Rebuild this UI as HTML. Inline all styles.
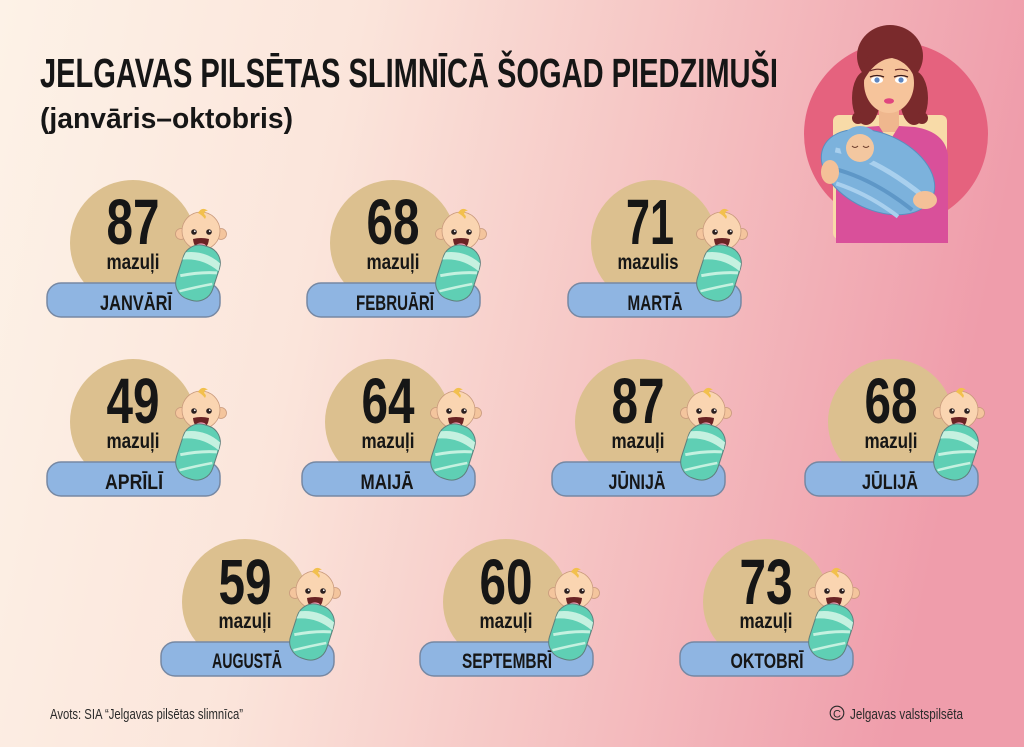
<!DOCTYPE html>
<html><head><meta charset="utf-8"><style>
html,body{margin:0;padding:0;width:1024px;height:747px;overflow:hidden;}
svg{display:block;}
text{font-family:"Liberation Sans",sans-serif;fill:#161616;}
</style></head><body>
<svg width="1024" height="747" viewBox="0 0 1024 747" xmlns="http://www.w3.org/2000/svg">
<defs>
<linearGradient id="bg" x1="0" y1="0" x2="1" y2="0.15">
<stop offset="0" stop-color="#fdf2e7"/>
<stop offset="0.35" stop-color="#fbe5db"/>
<stop offset="0.62" stop-color="#f6c8c6"/>
<stop offset="1" stop-color="#ef9dab"/>
</linearGradient>
<g id="baby">
<circle cx="-20" cy="3" r="5.5" fill="#f4c59d" stroke="#c99a7c" stroke-width="0.8"/>
<circle cx="20" cy="3" r="5.5" fill="#f4c59d" stroke="#c99a7c" stroke-width="0.8"/>
<circle cx="0" cy="0" r="19" fill="#fad5b1" stroke="#c99a7c" stroke-width="0.8"/>
<path d="M-3 -18 Q1 -25 7 -20 Q4 -21 3 -17 Q6 -15 4 -12 Q1 -16 -3 -18Z" fill="#f2c04d"/>
<circle cx="-7" cy="1" r="2.8" fill="#2b2020"/>
<circle cx="8" cy="1" r="2.8" fill="#2b2020"/>
<circle cx="-6.2" cy="0.2" r="0.9" fill="#fff"/>
<circle cx="8.8" cy="0.2" r="0.9" fill="#fff"/>
<path d="M-8 8 Q0 6 8 8 Q7 18 0 18 Q-7 18 -8 8Z" fill="#6a2324"/>
<ellipse cx="0" cy="15" rx="5" ry="2.6" fill="#f59ab6"/>
<g transform="translate(-3,42) rotate(18)">
<rect x="-19" y="-28" width="38" height="56" rx="17" fill="#5fcfb4" stroke="#5f7f7c" stroke-width="1"/>
<path d="M-18 -16 Q0 -24 18 -16 L19 -8 Q0 -16 -19 -8Z" fill="#c5f1e0"/>
<path d="M-16 8 Q2 -2 18 -6" stroke="#c5f1e0" stroke-width="3" fill="none"/>
<path d="M-12 23 Q4 13 17 6" stroke="#c5f1e0" stroke-width="2.5" fill="none"/>
</g>
</g>
</defs>
<rect width="1024" height="747" fill="url(#bg)"/>

<!-- Title -->
<text x="40" y="87" font-size="41" font-weight="bold" textLength="738" lengthAdjust="spacingAndGlyphs">JELGAVAS PILSĒTAS SLIMNĪCĀ ŠOGAD PIEDZIMUŠI</text>
<text x="40" y="128" font-size="29" font-weight="bold" textLength="253" lengthAdjust="spacingAndGlyphs">(janvāris–oktobris)</text>

<!-- Mother illustration -->
<circle cx="896" cy="134" r="92" fill="#e5627e"/>
<rect x="833" y="115" width="114" height="124" rx="6" fill="#f8dba8"/>
<ellipse cx="890" cy="56" rx="33" ry="31" fill="#7a2a2c"/>
<ellipse cx="866" cy="98" rx="14" ry="27" fill="#7a2a2c"/>
<ellipse cx="914" cy="98" rx="14" ry="27" fill="#7a2a2c"/>
<circle cx="858" cy="118" r="6" fill="#7a2a2c"/>
<circle cx="922" cy="118" r="6" fill="#7a2a2c"/>
<rect x="879" y="100" width="20" height="32" fill="#efb78e"/>
<path d="M836 243 L836 152 Q838 130 865 127 L879 126 L889 142 L899 126 L915 127 Q945 132 948 155 L948 243 Z" fill="#d9509a"/>
<ellipse cx="889" cy="83" rx="25" ry="30" fill="#f6c49b"/>
<path d="M863 82 Q860 48 890 46 Q920 48 916 82 Q910 62 892 58 Q874 60 863 82Z" fill="#7a2a2c"/>
<ellipse cx="877" cy="80" rx="6" ry="3.6" fill="#fff"/>
<ellipse cx="901" cy="80" rx="6" ry="3.6" fill="#fff"/>
<circle cx="877" cy="80" r="2.6" fill="#5d86c0"/>
<circle cx="901" cy="80" r="2.6" fill="#5d86c0"/>
<path d="M870 77 Q877 74 884 77" stroke="#3a1a1a" stroke-width="1.3" fill="none"/>
<path d="M894 77 Q901 74 908 77" stroke="#3a1a1a" stroke-width="1.3" fill="none"/>
<path d="M870 71 Q877 68 883 70" stroke="#6a2a2a" stroke-width="1.2" fill="none"/>
<path d="M895 70 Q901 68 908 71" stroke="#6a2a2a" stroke-width="1.2" fill="none"/>
<ellipse cx="889" cy="101" rx="5" ry="2.8" fill="#e0457f"/>
<g transform="rotate(25 878 172)">
<ellipse cx="878" cy="172" rx="60" ry="38" fill="#7cb2dc" stroke="#5b8fbf" stroke-width="1"/>
<path d="M830 170 Q870 160 930 175" stroke="#a9d0ee" stroke-width="5" fill="none"/>
<path d="M835 188 Q875 180 925 192" stroke="#5e97c7" stroke-width="4" fill="none"/>
<path d="M845 200 Q880 196 915 204" stroke="#a9d0ee" stroke-width="4" fill="none"/>
</g>
<circle cx="860" cy="146" r="20" fill="#7cb2dc"/>
<circle cx="860" cy="148" r="14" fill="#f3c7a0"/>
<path d="M852 146 Q855 149 858 146" stroke="#6a3a2a" stroke-width="1" fill="none"/>
<path d="M863 146 Q866 149 869 146" stroke="#6a3a2a" stroke-width="1" fill="none"/>
<ellipse cx="830" cy="172" rx="9" ry="12" fill="#f4c198"/>
<ellipse cx="925" cy="200" rx="12" ry="9" fill="#f4c198"/>

<!-- Cards -->
<g id="cards">
<!-- Row 1 B=283 -->
<circle cx="133" cy="243" r="63" fill="#dcc08f"/>
<rect x="47" y="283" width="173" height="34" rx="14" fill="#8fb5e2" stroke="#7688a3" stroke-width="1.5"/>
<text x="133" y="244" font-size="64" font-weight="bold" text-anchor="middle" textLength="53" lengthAdjust="spacingAndGlyphs">87</text>
<text x="133" y="269" font-size="21" font-weight="bold" text-anchor="middle" textLength="53" lengthAdjust="spacingAndGlyphs">mazuļi</text>
<text x="136" y="310" font-size="21" font-weight="bold" text-anchor="middle" textLength="72" lengthAdjust="spacingAndGlyphs">JANVĀRĪ</text>
<use href="#baby" x="201" y="231"/>

<circle cx="393" cy="243" r="63" fill="#dcc08f"/>
<rect x="307" y="283" width="173" height="34" rx="14" fill="#8fb5e2" stroke="#7688a3" stroke-width="1.5"/>
<text x="393" y="244" font-size="64" font-weight="bold" text-anchor="middle" textLength="53" lengthAdjust="spacingAndGlyphs">68</text>
<text x="393" y="269" font-size="21" font-weight="bold" text-anchor="middle" textLength="53" lengthAdjust="spacingAndGlyphs">mazuļi</text>
<text x="395" y="310" font-size="21" font-weight="bold" text-anchor="middle" textLength="78" lengthAdjust="spacingAndGlyphs">FEBRUĀRĪ</text>
<use href="#baby" x="461" y="231"/>

<circle cx="654" cy="243" r="63" fill="#dcc08f"/>
<rect x="568" y="283" width="173" height="34" rx="14" fill="#8fb5e2" stroke="#7688a3" stroke-width="1.5"/>
<text x="650" y="244" font-size="64" font-weight="bold" text-anchor="middle" textLength="48" lengthAdjust="spacingAndGlyphs">71</text>
<text x="648" y="269" font-size="21" font-weight="bold" text-anchor="middle" textLength="61" lengthAdjust="spacingAndGlyphs">mazulis</text>
<text x="655" y="310" font-size="21" font-weight="bold" text-anchor="middle" textLength="55" lengthAdjust="spacingAndGlyphs">MARTĀ</text>
<use href="#baby" x="722" y="231"/>

<!-- Row 2 B=462 -->
<circle cx="133" cy="422" r="63" fill="#dcc08f"/>
<rect x="47" y="462" width="173" height="34" rx="14" fill="#8fb5e2" stroke="#7688a3" stroke-width="1.5"/>
<text x="133" y="423" font-size="64" font-weight="bold" text-anchor="middle" textLength="53" lengthAdjust="spacingAndGlyphs">49</text>
<text x="133" y="448" font-size="21" font-weight="bold" text-anchor="middle" textLength="53" lengthAdjust="spacingAndGlyphs">mazuļi</text>
<text x="134" y="489" font-size="21" font-weight="bold" text-anchor="middle" textLength="58" lengthAdjust="spacingAndGlyphs">APRĪLĪ</text>
<use href="#baby" x="201" y="410"/>

<circle cx="388" cy="422" r="63" fill="#dcc08f"/>
<rect x="302" y="462" width="173" height="34" rx="14" fill="#8fb5e2" stroke="#7688a3" stroke-width="1.5"/>
<text x="388" y="423" font-size="64" font-weight="bold" text-anchor="middle" textLength="53" lengthAdjust="spacingAndGlyphs">64</text>
<text x="388" y="448" font-size="21" font-weight="bold" text-anchor="middle" textLength="53" lengthAdjust="spacingAndGlyphs">mazuļi</text>
<text x="387" y="489" font-size="21" font-weight="bold" text-anchor="middle" textLength="53" lengthAdjust="spacingAndGlyphs">MAIJĀ</text>
<use href="#baby" x="456" y="410"/>

<circle cx="638" cy="422" r="63" fill="#dcc08f"/>
<rect x="552" y="462" width="173" height="34" rx="14" fill="#8fb5e2" stroke="#7688a3" stroke-width="1.5"/>
<text x="638" y="423" font-size="64" font-weight="bold" text-anchor="middle" textLength="53" lengthAdjust="spacingAndGlyphs">87</text>
<text x="638" y="448" font-size="21" font-weight="bold" text-anchor="middle" textLength="53" lengthAdjust="spacingAndGlyphs">mazuļi</text>
<text x="637" y="489" font-size="21" font-weight="bold" text-anchor="middle" textLength="57" lengthAdjust="spacingAndGlyphs">JŪNIJĀ</text>
<use href="#baby" x="706" y="410"/>

<circle cx="891" cy="422" r="63" fill="#dcc08f"/>
<rect x="805" y="462" width="173" height="34" rx="14" fill="#8fb5e2" stroke="#7688a3" stroke-width="1.5"/>
<text x="891" y="423" font-size="64" font-weight="bold" text-anchor="middle" textLength="53" lengthAdjust="spacingAndGlyphs">68</text>
<text x="891" y="448" font-size="21" font-weight="bold" text-anchor="middle" textLength="53" lengthAdjust="spacingAndGlyphs">mazuļi</text>
<text x="890" y="489" font-size="21" font-weight="bold" text-anchor="middle" textLength="56" lengthAdjust="spacingAndGlyphs">JŪLIJĀ</text>
<use href="#baby" x="959" y="410"/>

<!-- Row 3 B=642 -->
<circle cx="245" cy="602" r="63" fill="#dcc08f"/>
<rect x="161" y="642" width="173" height="34" rx="14" fill="#8fb5e2" stroke="#7688a3" stroke-width="1.5"/>
<text x="245" y="604" font-size="64" font-weight="bold" text-anchor="middle" textLength="53" lengthAdjust="spacingAndGlyphs">59</text>
<text x="245" y="628" font-size="21" font-weight="bold" text-anchor="middle" textLength="53" lengthAdjust="spacingAndGlyphs">mazuļi</text>
<text x="247" y="668" font-size="21" font-weight="bold" text-anchor="middle" textLength="70" lengthAdjust="spacingAndGlyphs">AUGUSTĀ</text>
<use href="#baby" x="315" y="590"/>

<circle cx="506" cy="602" r="63" fill="#dcc08f"/>
<rect x="420" y="642" width="173" height="34" rx="14" fill="#8fb5e2" stroke="#7688a3" stroke-width="1.5"/>
<text x="506" y="604" font-size="64" font-weight="bold" text-anchor="middle" textLength="53" lengthAdjust="spacingAndGlyphs">60</text>
<text x="506" y="628" font-size="21" font-weight="bold" text-anchor="middle" textLength="53" lengthAdjust="spacingAndGlyphs">mazuļi</text>
<text x="507" y="668" font-size="21" font-weight="bold" text-anchor="middle" textLength="90" lengthAdjust="spacingAndGlyphs">SEPTEMBRĪ</text>
<use href="#baby" x="574" y="590"/>

<circle cx="766" cy="602" r="63" fill="#dcc08f"/>
<rect x="680" y="642" width="173" height="34" rx="14" fill="#8fb5e2" stroke="#7688a3" stroke-width="1.5"/>
<text x="766" y="604" font-size="64" font-weight="bold" text-anchor="middle" textLength="53" lengthAdjust="spacingAndGlyphs">73</text>
<text x="766" y="628" font-size="21" font-weight="bold" text-anchor="middle" textLength="53" lengthAdjust="spacingAndGlyphs">mazuļi</text>
<text x="767" y="668" font-size="21" font-weight="bold" text-anchor="middle" textLength="73" lengthAdjust="spacingAndGlyphs">OKTOBRĪ</text>
<use href="#baby" x="834" y="590"/>
</g>

<!-- Footer -->
<text x="50" y="719" font-size="15" textLength="193" lengthAdjust="spacingAndGlyphs" style="fill:#2a2a2a">Avots: SIA “Jelgavas pilsētas slimnīca”</text>
<circle cx="837" cy="713" r="6.8" fill="none" stroke="#2a2a2a" stroke-width="1.1"/>
<text x="837" y="717.5" font-size="11" text-anchor="middle" style="fill:#2a2a2a">C</text>
<text x="850" y="719" font-size="15" textLength="113" lengthAdjust="spacingAndGlyphs" style="fill:#2a2a2a">Jelgavas valstspilsēta</text>
</svg>
</body></html>
